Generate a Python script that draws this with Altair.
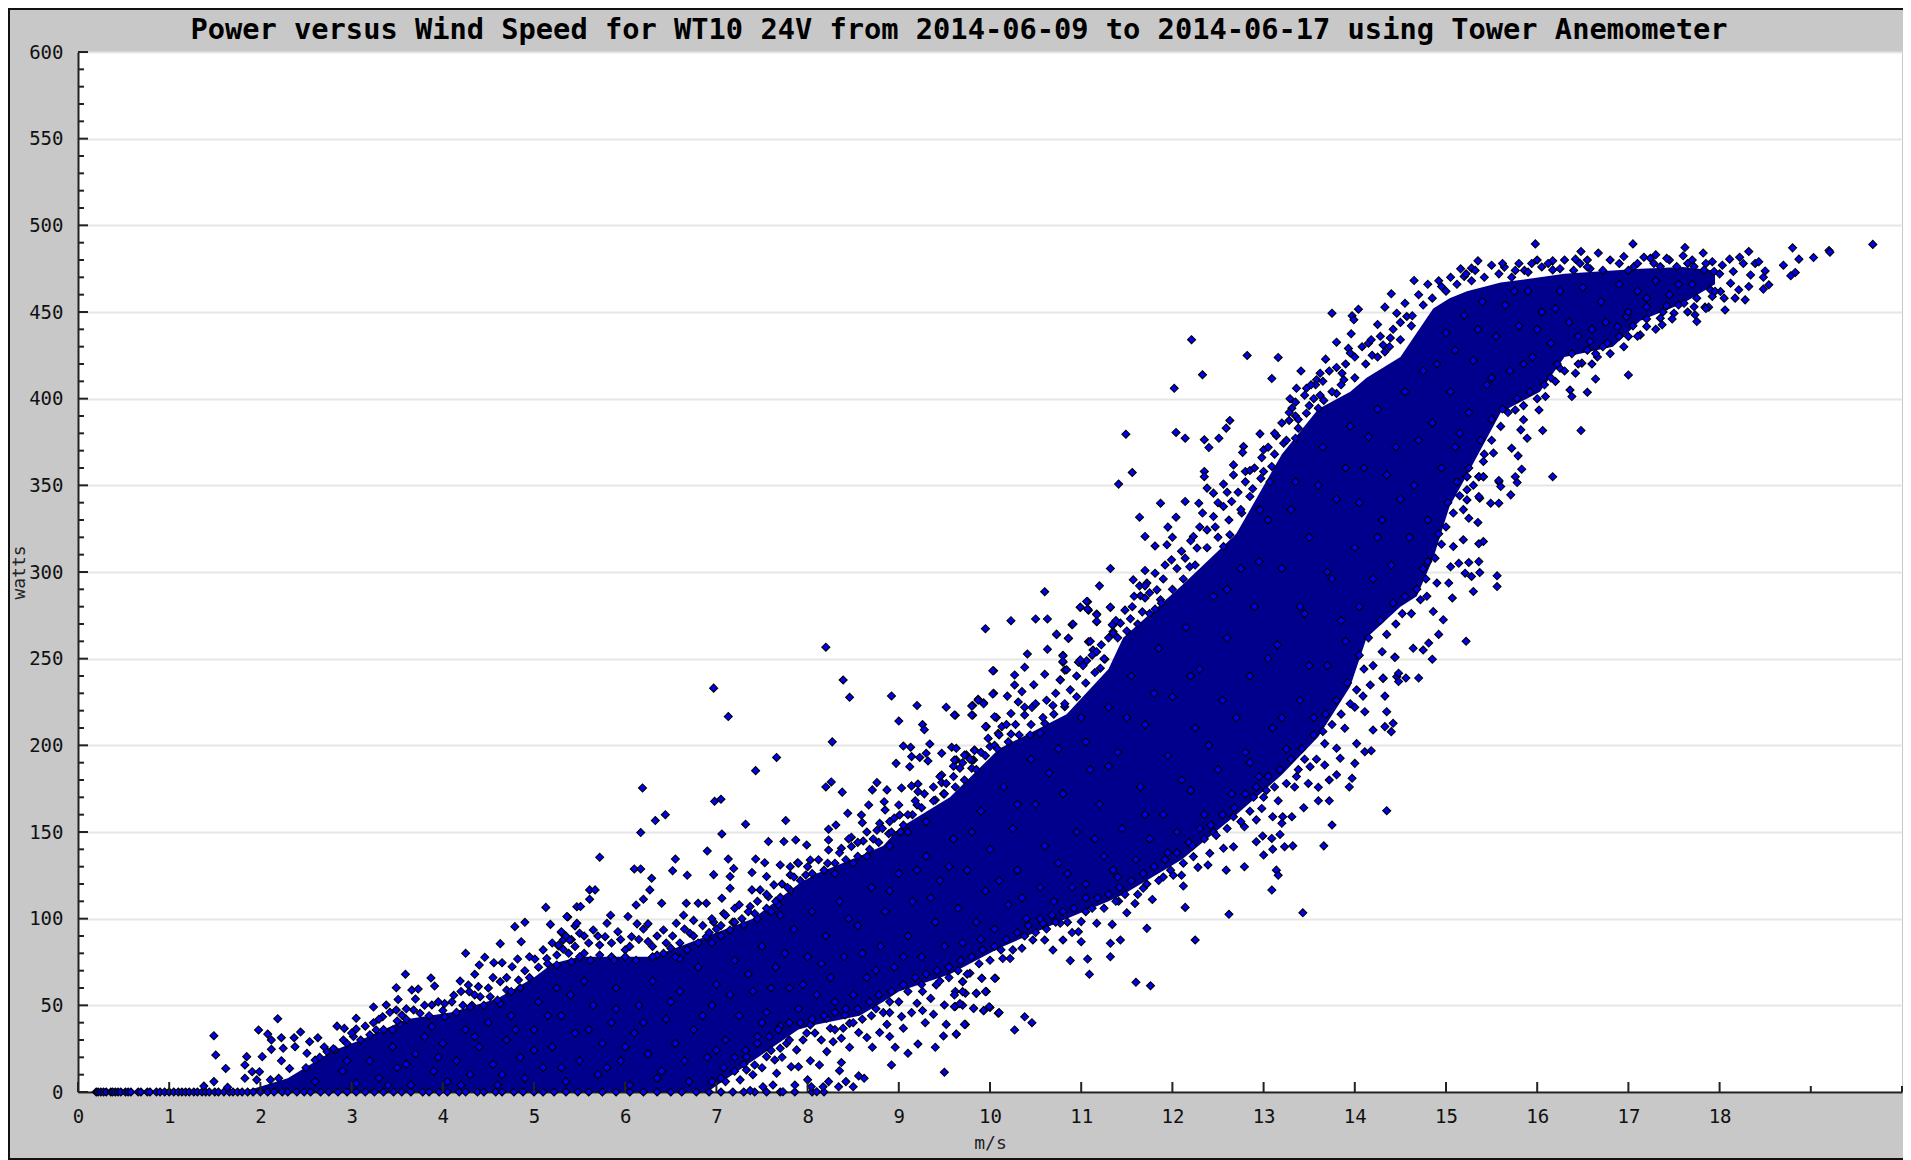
import altair as alt
import pandas as pd

TITLE = "Power versus Wind Speed for WT10 24V from 2014-06-09 to 2014-06-17 using Tower Anemometer"
X_LABELLED = list(range(0, 19))
X_TICKS = list(range(0, 21))
Y_MAJOR = list(range(0, 601, 50))
Y_MINOR = [v for v in range(0, 601, 10) if v % 50]

# Individual markers at zero watts, read along the axis.
zero_x = [0.20,0.22,0.25,0.28,0.31,0.36,0.38,0.41,0.44,0.47,0.52,0.55,0.58,0.66,0.69,0.76,0.79,0.86,0.90,0.95,
          1.00,1.05,1.10,1.14,1.18,1.22,1.27,1.31,1.36,1.40,1.44,1.50,1.54,1.60,1.66,1.70,1.75,1.80,1.86,1.92,
          2.00,2.08,2.15,2.24,2.30,2.40,2.48,2.55,2.66,2.75,2.85,2.95,3.05,3.15,3.25,3.35,3.46,3.55,3.65,3.78,
          3.85,3.96,4.05,4.18,4.25,4.38,4.45,4.58,4.65,4.78,4.88,5.00,5.10,5.22,5.35,5.48,5.60,5.75,5.90,6.05,
          6.20,6.35,6.50,6.62,6.78,6.92,7.05,7.18,7.30,7.42,7.55,7.70,7.86,8.05,8.18]

# The saturated core of the cloud, where single markers cannot be told apart:
# an envelope traced from its visible edges, not individual measurements.
core_x = [1.8,2.3,2.8,3.1,3.6,4.1,4.6,5.0,5.2,5.5,6.3,6.9,7.4,7.9,8.1,8.57,8.83,9.0,9.56,10.1,10.84,11.3,11.46,12.1,12.7,13.2,13.6,13.95,14.13,14.5,14.68,14.86,15.04,15.23,15.6,16.03,16.3,16.83,17.13,17.6,17.95]
core_top = [0,8,24,30,42,46,54,66,74,78,78,90,100,120,126,136,142,152,170,198,218,244,262,292,322,368,394,404,412,424,438,452,458,462,467,470,472,474,475,476,474]
core_bottom = [0,0,0,0,0,0,0,0,0,0,0,0,18,36,39,44,52,58,68,83,100,110,114,134,160,183,205,234,262,280,286,308,338,356,392,404,424,430,445,455,466]

# Visible markers (wind speed m/s, power W).
low_wind = [(5.13,106.5),(5.37,101),(4.9,97.9),(4.79,95.4),(5.18,96.7),(4.63,85.6),(4.86,86.7),(5.3,92),(5.45,95.8),(5.47,106.9),(5.41,88),(5.32,87.7),(5.27,84.2),(5.32,82.3),
(4.25,80),(4.46,77.7),(4.4,73.3),(4.56,74.6),(4.65,74.6),(4.76,72.3),(4.82,76.7),(5.01,76.7),(5.14,77),(5.25,73.3),(5.41,75.2),
(3.59,67.9),(3.87,65.8),(4.35,67.9),(4.19,64),(3.91,61.1),(3.49,60.2),(3.66,58.8),(3.73,59.4),(4.28,61.7),(4.39,60.8),(4.63,63.6),(4.7,58.8),(4.83,64.6),(4.29,57.9),(4.41,55),
(3.51,53.4),(3.7,53.6),(4.12,55.8),(3.24,49),(3.38,50.2),(4.02,51),(3.88,50.2),(3.68,47.3),(3.49,47.3),(4.22,50),(4.52,55),(4.63,51),(4.32,50),
(3.05,42.5),(2.84,38),(2.92,36.7),(3.05,36.3),(3.24,40),(3.34,43.4),(3.55,44.4),(3.75,45.4),(3.27,35.8),(3.45,35.8),(3.53,39.2),(3.88,37.7),(4.02,43.4),
(2.19,42.3),(1.98,35.8),(2.44,34.6),(2.08,33.4),(2.12,30),(2.23,31.3),(2.37,31.3),(2.63,31.3),(2.54,29),(2.12,24.6),(2.25,25.2),(2.38,26.1),(1.49,32.5),(1.51,21.3),(1.62,13.6),(1.49,6),(1.64,2.7),(1.38,3.4),(1.85,20.4),(2.02,20.4),(1.83,15.6),(1.91,11.7),(1.99,11.7),(1.83,7.9),(1.96,7),(2.11,7),(2.2,7.9),(2.23,18),(2.32,13.6),(2.51,22.3),(2.6,18.4),(2.73,23.3),(2.91,30),(3.02,32),(2.82,24.2)]

mid_upper = [(8.2,256.6),(8.39,237.7),(8.46,227.7),(6.97,233),(7.13,216.6),(10.04,243),(8.92,228.5),(9.2,223),(9.0,214),(9.26,212),(9.28,209),(9.52,222),(9.62,217.3),(9.81,223),(9.87,226.6),(9.93,224.6),(9.81,217.3),(10.04,230),(10.07,216),(9.96,210.8),(8.27,202),(7.66,193),(7.43,185.4),(9.05,199.6),(9.13,198.9),(9.34,200.8),(9.3,195.4),(9.14,193.5),(9.23,193),(9.32,191),(8.97,189.6),(9.12,187.7),(9.47,195.4),(9.58,198.9),(9.63,198.3),(9.63,191.6),(9.6,188),(9.67,186.8),(9.74,194.5),(9.83,197.3),(9.82,191.6),(9.8,186.8),(10.0,199.3),
(6.19,175.4),(6.44,160),(6.33,156.6),(6.17,149.7),(6.98,167.7),(7.05,168.9),(7.32,154.5),(7.06,148.9),(7.76,156.6),(7.57,144.5),(7.74,144.5),(7.87,145.4),(6.9,139),(5.72,135.4),(6.55,134.4),(7.13,134.4),(7.43,134.4),(6.1,128.7),(6.17,128.7),(6.52,127.7),(6.68,125),(6.29,123.3),(7.19,128.9),(6.97,125.4),(7.15,124.3),(7.39,126.6),(7.53,132.3),(7.7,131),(7.89,132.3),(7.81,130),(7.99,142.5),(8.03,133.9),(7.81,125.2),(7.55,124.3),(7.63,119.5),(7.98,125.2),
(8.2,176),(8.26,178.9),(8.38,173),(8.76,178.5),(8.71,174.3),(8.87,174.3),(9.03,175.4),(9.14,176.6),(9.21,177.7),(9.21,173.3),(9.47,182.9),(9.47,178.5),(9.49,172),(8.67,165.6),(8.44,160.8),(8.59,159.8),(8.6,155.4),(8.84,167.5),(8.85,162.7),(9.0,165.6),(9.2,165.6),(9.4,168.5),(8.31,154),(8.23,151.6),(8.9,156),(8.79,155),(9.01,159.8),(8.23,145.4),(8.23,139.6),(8.37,140.6),(8.48,147),(8.61,144.8),(8.48,141.6),(8.76,151),(8.89,149),
(5.61,116.6),(5.67,116.6),(5.61,111.2),(6.27,116.6),(6.2,111.2),(6.12,107.9),(6.4,108.9),(5.51,107),(5.36,101.2),(5.84,102),(6.03,101.2),(5.47,97.3),(6.67,108.9),(6.8,108.9),(6.89,108.9),(7.06,111.8),(7.15,117.5),(7.39,116.6),(7.48,116.6),(7.57,112.7),(7.7,112.3),(7.81,116.6),(7.37,107),(7.2,106),(7.08,103),(5.8,97.3),(6.13,97),(6.25,97),(6.64,102),(6.75,99),(6.97,98),(5.3,92.5),(5.5,91.6),(5.65,93.5),(5.78,89.6),(5.92,92.5),(6.07,89.6),(6.42,93.5),(6.56,97.3),(5.27,84.8),(5.39,87.7),(5.72,84.8),(6.25,86.8),(6.71,91.6),(6.89,89.6),(7.15,93.5),(7.3,96.4),
(5.55,80),(5.85,78),(6.0,82),(6.35,79),(6.5,83),(6.6,77),(6.95,86),(7.05,90),(7.45,100),(7.6,104),(7.7,102),(8.3,126),(8.5,132),(8.65,136),(8.9,142),(9.1,150),(9.3,156)]

mid_lower = [(9.5,11.4),(8.92,15.6),(9.4,25.8),(9.21,27.7),(9.1,22.3),(9.49,32.3),(9.63,33.3),(9.73,39),(9.52,39),(9.29,40),(9.05,36.8),(8.9,32),(8.96,25.8),(8.71,25.8),(8.65,31.4),(8.56,34.3),(8.79,34.3),(8.87,39),(9.14,45.8),(9.26,47),(9.38,44.8),(9.03,43.5),(8.83,45.8),(8.9,45.8),(9.5,50.2),(9.62,49.3),(9.7,50),(9.82,48.3),(9.93,47),(10.0,48.7),(10.09,45.4),(9.85,57),(9.96,58),(9.62,58),(9.73,57),(9.26,58),(9.2,51.2),(9.91,65.6),(10.06,65.6),(9.7,63.7),(9.41,61.8),
(8.46,25.8),(8.37,17),(8.35,12.3),(8.28,29),(8.37,31),(8.21,23.3),(8.13,15.6),(8.03,18),(7.9,14.6),(7.82,14.6),(7.66,10.8),(7.42,15.6),(7.33,12.7),(7.26,7),(8.56,9.3),(8.62,7.9),(8.5,3),(8.42,6),(8.34,3),(8.23,6),(8.17,3),(8.0,7),(8.04,3),(7.86,4),(7.62,4),(7.51,3),(7.37,0.8),(8.1,0.2),(7.73,0.2),
(8.03,38.7),(8.25,36.8),(8.39,36.8),(8.46,39.6),(8.41,44.5),(8.21,42.5),(7.99,34),(7.88,24.3),(7.77,28),(7.64,18.5),(7.55,20.4),(7.7,25.2),(7.33,20.4),
(9.63,33.4),(9.72,39),(10.27,35.8),(10.38,43.4),(10.46,40),(10.1,45.8),(10.05,65.6),(9.91,65.6),(9.78,68.5),(9.7,63.6),(9.95,57.9),(9.85,56.9),(9.7,57.9),(9.61,56),(9.67,51),(9.99,49.2),(9.93,46.9),(9.82,48.2),(9.61,49.2),(10.22,77),(10.14,77),(10.69,81.9),(10.8,87.7),(10.6,87.7),(10.47,87.7),(10.35,82.9),(10.77,97.3),(10.58,97.3),(11.0,98.3)]

upper_band = [(9.95,267.3),(10.23,271.9),(10.5,272.9),(10.63,272.9),(10.6,288.6),(10.9,269.6),(10.73,264),(10.86,261.7),(11.07,282.9),(10.99,279.6),(11.08,278),(11.32,279.6),(11.17,275.8),(11.17,271.3),(11.35,269.4),(11.35,265.6),(10.63,255.4),(10.41,252.7),(10.8,252),(11.13,255),(11.08,259.8),(10.03,243),(10.27,240.6),(10.38,245),(10.6,241),(10.82,243.4),(10.97,248),(11.06,248.8),(10.8,248),(10.27,234.8),(10.48,235),(10.35,231),(10.03,229.6),(10.19,228.4),(10.31,225),(10.77,237.7),(9.87,226),(9.93,224),(9.8,222.7),(9.8,217.5),(9.61,217.5),(10.05,216.5),(10.23,218.4),(10.46,221.9),(10.38,217.5),(10.69,223),(10.82,222.3),(9.95,210.8),(10.13,210.8),(10.23,206.5),(10.09,206.9),(10.44,206),(10.6,212.7),(10.55,207),(10.05,200),(9.83,197),(9.72,194.4),(9.61,191.5),(9.8,191.5),
(14.4,460.5),(14.04,451.6),(14.33,452.8),(13.75,449.3),(13.97,447.8),(13.99,445.5),(14.25,442.8),(14.46,449.3),(14.57,447.4),(14.63,447.8),(13.96,437.4),(13.8,432.6),(14.15,432),(13.93,429),(13.95,426.3),(14.31,431),(14.39,435),(14.33,427),(14.19,425),(13.68,422.8),(13.16,423.8),(12.82,424.9),(12.21,434),(12.33,413.8),(12.02,406),(13.09,411.6),(13.41,416),(13.62,414.7),(13.58,410.9),(13.47,406),(13.57,408),(13.36,406),(13.29,400),(13.31,394.5),(13.35,390),(13.47,391.6),(13.28,387.4),(13.55,400),(13.66,399),(13.6,394.5),(13.8,403),(13.86,414.7),(13.88,410.9),
(12.63,387.4),(12.59,383),(12.96,379.7),(12.51,377.2),(12.35,376.3),(12.4,371.8),(12.78,372.4),(12.77,369),(13.0,370.5),(13.14,378.6),(11.49,379.5),(12.04,380.5),(12.14,377.2),(13.22,374.3),(13.38,383),(13.35,377.2),(11.56,357.4),(11.41,350.7),(12.35,358),(12.35,355),(12.67,361.8),(12.67,356),(12.8,358),(12.85,358.6),(12.97,354),(12.56,350.7),(12.38,348.4),(12.45,345.5),(13.09,360.9),(13.07,352),(11.87,339.7),(12.14,340.7),(12.29,339.7),(11.64,331.6),(12.04,331.6),(11.95,325.9),(11.7,320.5),(11.81,315),(11.94,315.7),(12.0,320),(12.56,337.8),(12.65,340.7),(12.85,343.6),(12.96,335.9),(12.76,334),
(11.32,302),(11.2,292),(10.99,279.7),(11.06,283),(11.07,278.6),(11.32,279.7),(11.17,275.3),(11.17,271.5),(10.91,270),(10.73,264),(10.86,261.8),(11.7,300.9),(11.81,299.3),(11.57,295.5),(11.72,293.6),(11.64,292),(11.83,289.7),(11.65,286.3),(11.7,285),(11.87,284),(11.56,280),(11.67,277),(11.81,278.6),(11.54,273),(11.34,269.5),(11.43,270.5),(11.35,264.7),(11.1,260),(11.17,254),(10.99,249.3),(10.8,251.6),(10.8,248.4),(11.26,249.7),(10.84,243.6),(11.21,244.5),(10.77,237.8),(11.99,307),(12.14,308),(12.23,320.5),(12.38,324.3),(12.47,326),(12.27,313.8),(12.63,321.5),(12.19,303),(12.56,314.7)]

right_lower = [(14.35,162.3),(13.75,154),(13.66,142),(13.43,103.4),(12.62,102.5),(12.14,106.5),(13.09,116.5),(13.14,128),(13.16,125),(12.79,130),(12.25,87.7),(11.72,94.4),(11.76,61.3),(11.6,63.3),(11.09,67.9),(11.07,76.7),(10.88,75.8),(11.32,78),(11.32,85.8),(11.43,87.7),(11.0,86.7),(11.34,96.7),(10.97,92.5),(11.17,97.3),(11.5,103.4),(11.59,108.8),(11.41,110),(11.78,111.1),(12.12,118.8),(11.68,117.5),(11.9,124),(12.01,125),(12.1,125),(12.59,128),(12.28,129.6),(12.39,131),(13.0,136.7),(12.67,141.5),(12.56,140.6),(12.23,135.8),(12.41,137.7),(12.92,144.4),(13.1,140),(13.23,141.5),(13.32,142),(13.09,146.3),(13.18,148.6),(12.99,147.7),(12.67,158.8),(12.79,153),(12.92,157),(13.1,158.8),(13.21,158.8),(13.31,158.8),(13.2,155),(13.44,164),(13.6,168),(13.72,168),(13.16,168),(12.98,163.6),(12.89,170),(13.03,174),(13.94,176),(13.97,181),(13.8,183),(13.72,180),(13.6,175.8),(13.49,178),(13.34,176),(13.36,182),(13.67,188.6),(14.0,189.6),(13.84,192.5),(13.51,187.7),(14.18,196.9),(14.11,196.3),(14.02,201),(13.8,198.3),(13.67,201),(14.4,207.9),(14.33,210.8),(14.2,208.8),(14.42,212.7),(13.89,209.8),(14.35,219.4),(14.11,219.4),(14.0,222),(14.33,228.4),(14.09,228.4),(14.31,238.6),(14.46,239.6),(14.17,234.8),(14.44,251),
(15.22,260),(14.85,249.7),(14.92,264),(14.97,272.4),(14.7,238.8),(14.56,238.8),(14.48,241.6),(14.48,236.8),(14.31,238.8),(14.44,250.7),(14.75,255),(14.81,259),(14.64,256),(15.07,285),(14.86,277.2),(15.3,288.8),(15.56,291.6),(15.03,293.6),(14.9,293.6),(14.79,286),(15.05,303),(15.14,305),(15.25,305.5),(15.36,306),(15.37,299.7),(15.28,297.4),(15.21,299.3),(15.56,297.8),(15.36,316.3),(15.41,317.6),(15.08,314.7),(15.19,318.6),(15.35,328.6),(15.25,331),(15.19,336),(15.37,342.6),(15.49,339.7),(15.58,339.7),(15.23,341.6),(15.36,355),(15.41,355),(15.58,352),(15.23,355),(15.23,347.4),(15.41,363.8),(15.52,368.6)]

top_end = [(19.68,489),(19.2,485.5),(19.21,484.5),(19.03,481.4),(18.87,480.5),(18.8,487),(18.7,477),(18.83,472.8),(18.78,470.9),(18.32,484.9),(18.22,481.6),(18.26,478),(18.11,480.5),(18.39,478),(18.43,479),(18.03,477),(17.92,479),(17.82,484),(17.62,487.2),(17.6,482.4),(17.05,489.3),(16.48,484.9),(16.67,484),(15.98,489.3),(16.17,479.5),(16.17,474.3),(15.94,478),(15.64,475.9),(15.76,474),(15.86,474),(15.35,479.5),(15.28,475.3),(15.16,474.9),(15.2,470.5),(14.65,468.2),(14.95,464.7),(16.42,480.5),(16.47,478),(16.58,474.9),(17.17,481.6),(17.24,481),(17.0,474),(17.06,476.2),(17.35,476.2),(17.53,476.2),(17.72,476.2),(17.83,474.3),(17.94,473.4),(18.15,473.4),(18.34,471.4),(18.5,473.7),(18.48,470),(18.54,465.7),(18.48,463.2),(18.32,464.7),(18.21,462.8),(18.12,466.6),(18.01,461.8),(17.9,462.8),(18.17,458),(18.28,457),(18.06,451.2),(17.88,452.8),(17.84,452.8),(17.92,459),(17.72,453),(17.73,448.4),(17.75,444.5),(17.61,455),(17.5,449.3),(17.42,453.5),(17.35,446.4),(17.37,442.6),(17.2,441.6),(17.13,436.8),(17.0,435.9),(17.0,413.7),(16.64,411.4),(16.55,403.7),(16.36,405),(16.38,401.2),(16.48,381.6),(16.06,381.6),(15.89,377.2),(15.72,371.4),(15.79,367),(15.83,359.3),(16.17,355),(15.76,355),(15.71,344.5),(15.36,343.5),(15.78,351.6),(15.58,352.8),(15.6,349.3),(15.36,355),(15.41,355),(15.23,355),(16.66,424),(16.64,426),(16.42,414.7),(16.49,420.5),(16.25,417.6),(16.2,409.9),(16.09,401.2),(16.02,393.5),(15.85,387.8),(15.76,393.5),(15.82,382),(16.77,432),(16.58,433),(16.88,441.6),(16.98,447.4),(17.2,453)]

# Bright diamonds seen inside the core, approximate positions.
inside_low = [(2.6,6),(2.9,12),(3.05,5),(3.2,18),(3.3,8),(3.45,26),(3.5,14),(3.65,4),(3.7,22),(3.8,32),(3.9,12),(4.0,28),(4.05,6),(4.15,18),(4.25,36),(4.3,10),(4.4,26),(4.5,40),(4.55,16),(4.6,4),(4.7,30),(4.75,44),(4.85,20),(4.9,8),(5.0,36),(5.05,52),(5.1,14),(5.2,26),(5.25,60),(5.3,44),(5.35,6),(5.45,34),(5.5,18),(5.55,64),(5.65,50),(5.7,10),(5.75,28),(5.85,40),(5.9,60),(5.95,18),(6.05,4),(6.1,34),(6.15,50),(6.25,22),(6.3,64),(6.4,12),(6.45,42),(6.55,28),(6.6,58),(6.7,6),(6.75,36),(6.8,72),(6.9,20),(6.95,50),(7.0,62),(7.05,8),(7.1,30),(7.2,76),(7.25,44),(7.3,16),(7.4,58),(7.45,32),(7.5,84),(7.55,46),(7.65,72),(7.7,38),(7.8,60),(7.85,94),(7.9,48),(8.0,78),(8.05,104),(8.1,56),(8.2,90),(8.25,66),(8.35,110),(8.4,78),(8.5,56),(8.55,96),(8.65,66),(8.7,118),(8.8,84),(8.85,104),(8.95,72),(9.0,126),(9.1,90),(9.15,110),(9.25,78),(9.3,136),(9.4,98),(9.45,122),(9.5,84)]
inside_mid = [(9.6,146),(9.65,106),(9.7,86),(9.75,128),(9.85,98),(9.9,162),(9.95,116),(10.0,140),(10.05,94),(10.15,176),(10.2,108),(10.25,152),(10.3,128),(10.4,100),(10.45,192),(10.5,166),(10.55,118),(10.6,142),(10.7,110),(10.75,198),(10.8,172),(10.85,126),(10.95,150),(11.0,216),(11.05,120),(11.1,186),(11.2,166),(11.25,136),(11.3,222),(11.35,128),(11.4,196),(11.45,152),(11.55,240),(11.6,134),(11.65,176),(11.7,212),(11.75,146),(11.85,256),(11.9,160),(11.95,194),(12.0,228),(12.05,150),(12.15,268),(12.2,174),(12.25,210),(12.3,244),(12.35,160),(12.45,286),(12.5,186),(12.55,226),(12.6,262),(12.65,172),(12.75,302),(12.8,196),(12.85,240),(12.9,280),(12.95,182),(13.05,330),(13.1,210),(13.15,258),(13.2,302),(13.25,198),(13.35,352),(13.4,226),(13.45,276),(13.5,320),(13.55,216),(13.65,372),(13.7,246),(13.75,296),(13.8,342),(13.9,260),(13.95,384),(14.0,314),(14.05,280),(14.1,360),(14.2,296),(14.25,394),(14.3,330),(14.4,304),(14.45,372),(14.55,404),(14.6,320),(14.65,350),(14.75,416),(14.8,330),(14.85,386),(14.95,360),(15.0,438),(15.05,404),(15.1,372),(15.2,448),(15.25,392),(15.3,422),(15.4,456),(15.45,408),(15.55,436),(15.65,454),(15.7,416),(15.8,442),(15.9,462),(15.95,424),(16.05,450),(16.15,432),(16.25,462),(16.35,444),(16.5,464),(16.6,440),(16.7,456),(16.9,466),(17.0,450),(17.1,462),(17.3,468),(17.45,460),(17.7,466)]
inside_more = [(2.95,18),(3.4,4),(3.6,16),(3.95,20),(4.2,4),(4.35,32),(4.65,10),(4.8,36),(5.0,24),(5.15,44),(5.3,14),(5.4,56),(5.6,36),(5.8,14),(5.9,48),(6.0,26),(6.2,40),(6.35,8),(6.5,52),(6.65,18),(6.85,44),(7.0,24),(7.15,56),(7.35,68),(7.5,40),(7.6,60),(7.75,80),(7.95,62),(8.15,74),(8.3,52),(8.45,100),(8.6,80),(8.75,70),(8.9,116),(9.05,78),(9.2,128),(9.35,112),(9.55,130),(9.8,150),(9.9,88),(10.1,122),(10.3,166),(10.35,112),(10.65,184),(10.75,132),(10.9,118),(11.05,202),(11.15,146),(11.3,188),(11.4,124),(11.5,216),(11.7,160),(11.8,230),(11.95,138),(12.1,180),(12.2,240),(12.4,200),(12.45,150),(12.6,290),(12.7,216),(12.85,190),(12.95,306),(13.05,250),(13.2,216),(13.3,336),(13.4,280),(13.5,246),(13.6,350),(13.7,300),(13.85,272),(13.9,360),(14.05,340),(14.15,378),(14.25,320),(14.35,356),(14.5,342),(14.7,376),(14.75,302),(14.9,420),(15.1,428),(15.15,380),(15.35,440),(15.5,412),(15.75,462),(15.85,420),(16.0,440),(16.2,452),(16.45,436),(16.75,444),(17.2,458),(17.55,466)]

# Markers crowding the jagged rim of the core, estimated along its edges.
rim_top = [(2.5,14),(2.65,20),(2.8,25),(2.95,28),(3.1,30),(3.2,33),(3.35,36),(3.5,41),(3.6,42),(3.85,44),(4.0,47),(4.15,46),(4.3,49),(4.45,50),(4.6,53),(4.75,58),(4.85,60),(4.95,66),(5.05,72),(5.15,74),(5.25,79),(5.38,80),(5.5,78),(5.62,76),(5.72,79),(5.88,76),(6.0,78),(6.12,76),(6.3,78),(6.42,80),(6.55,78),(6.68,82),(6.8,86),(6.92,92),(7.05,96),(7.18,98),(7.28,100),(7.42,103),(7.55,106),(7.68,108),(7.78,118),(7.92,122),(8.05,126),(8.18,128),(8.3,132),(8.42,134),(8.55,136),(8.68,140),(8.78,144),(8.92,150),(9.05,154),(9.15,160),(9.25,164),(9.38,168),(9.5,172),(9.62,176),(9.72,180),(9.85,186),(9.95,194),(10.08,198),(10.2,202),(10.32,206),(10.45,212),(10.58,216),(10.7,218),(10.82,224),(10.95,228),(11.05,236),(11.15,242),(11.25,250),(11.4,262),(11.5,266),(11.62,270),(11.75,276),(11.88,282),(12.0,290),(12.12,296),(12.25,304),(12.38,314),(12.5,320),(12.62,330),(12.75,336),(12.88,348),(13.0,358),(13.12,368),(13.25,376),(13.38,388),(13.5,396),(13.62,402),(13.75,404),(13.85,408),(14.0,412),(14.12,420),(14.25,424),(14.38,430),(14.5,434),(14.62,442),(14.75,454),(14.85,458),(15.0,462),(15.12,466),(15.28,468),(15.42,470),(15.58,472),(15.72,470),(15.9,473),(16.05,476),(16.25,475),(16.4,474),(16.55,476),(16.72,474),(16.9,478),(17.1,478),(17.28,478),(17.45,480),(17.65,478),(17.85,478)]
rim_bottom = [(6.95,6),(7.08,14),(7.2,20),(7.32,24),(7.45,28),(7.58,32),(7.68,36),(7.8,40),(7.92,40),(8.05,42),(8.18,44),(8.3,46),(8.42,48),(8.55,48),(8.68,52),(8.78,56),(8.92,58),(9.05,62),(9.18,66),(9.3,68),(9.42,70),(9.55,72),(9.68,76),(9.8,78),(9.92,82),(10.05,84),(10.18,88),(10.3,92),(10.42,96),(10.55,100),(10.68,102),(10.8,104),(10.92,106),(11.05,112),(11.18,112),(11.3,114),(11.42,118),(11.55,122),(11.68,126),(11.8,130),(11.92,134),(12.05,138),(12.18,144),(12.3,152),(12.42,154),(12.55,160),(12.68,164),(12.8,172),(12.92,176),(13.05,182),(13.18,186),(13.3,192),(13.42,198),(13.55,206),(13.68,218),(13.8,226),(13.92,236),(14.05,252),(14.15,262),(14.28,272),(14.42,282),(14.55,286),(14.68,290),(14.8,306),(14.92,322),(15.02,340),(15.12,352),(15.25,360),(15.38,376),(15.5,388),(15.62,394),(15.78,400),(15.92,404),(16.08,408),(16.22,420),(16.38,426),(16.55,428),(16.72,430),(16.9,436),(17.05,442),(17.2,446),(17.38,450),(17.55,454),(17.75,458),(17.95,462)]

# Further markers in the crowded zone just outside the rim, estimated.
fringe_up_a = [(2.7,26),(3.0,34),(3.15,38),(3.3,42),(3.42,46),(3.6,48),(3.8,50),(3.95,52),(4.1,52),(4.2,58),(4.35,56),(4.5,60),(4.55,66),(4.7,66),(4.9,70),(4.95,78),(5.1,82),(5.2,86),(5.35,90),(5.45,84),(5.55,90),(5.6,86),(5.7,90),(5.85,86),(5.95,88),(6.05,84),(6.15,88),(6.2,94),(6.3,84),(6.35,90),(6.45,86),(6.52,90),(6.6,86),(6.65,94),(6.75,90),(6.85,96),(6.95,100),(7.0,94),(7.1,102),(7.2,98),(7.25,108),(7.35,104),(7.45,110),(7.55,114),(7.65,110),(7.72,120),(7.85,124),(7.9,132),(8.0,130),(8.12,134),(8.22,132),(8.35,138),(8.45,146),(8.55,144),(8.65,150),(8.72,146),(8.82,152),(8.95,158),(9.02,150),(9.1,160),(9.18,168),(9.28,172),(9.38,176),(9.45,182),(9.52,178),(9.6,182),(9.7,190),(9.78,192),(9.9,196),(9.98,204),(10.1,206),(10.18,212),(10.28,212),(10.38,222),(10.5,224),(10.62,226),(10.72,230),(10.88,232),(10.95,240),(11.02,246),(11.12,252),(11.22,258),(11.3,262),(11.38,272),(11.48,278),(11.58,286),(11.7,292)]
fringe_up_b = [(11.75,288),(11.9,296),(11.92,304),(12.05,302),(12.1,312),(12.2,318),(12.3,326),(12.33,334),(12.45,332),(12.5,340),(12.6,346),(12.72,346),(12.8,352),(12.9,360),(12.98,366),(13.05,372),(13.12,380),(13.2,386),(13.28,392),(13.35,398),(13.45,402),(13.52,408),(13.65,410),(13.72,416),(13.8,418),(13.9,420),(14.0,424),(14.08,430),(14.18,434),(14.28,436),(14.42,440),(14.5,444),(14.55,455),(14.7,460),(14.8,466),(14.92,468),(15.05,470),(15.22,472),(15.32,474),(15.5,477),(15.62,478),(15.8,478),(16.0,480),(16.12,478),(16.3,480),(16.55,480),(16.8,480),(16.95,482),(17.3,483),(17.42,481),(17.7,480),(18.0,472)]
fringe_lo_a = [(7.1,6),(7.2,12),(7.4,10),(7.5,14),(7.6,24),(7.72,20),(7.8,30),(7.95,30),(8.08,34),(8.15,30),(8.3,36),(8.5,40),(8.6,42),(8.7,44),(8.75,48),(8.9,52),(9.0,52),(9.1,58),(9.25,62),(9.35,54),(9.45,64),(9.55,66),(9.65,70),(9.75,68),(9.88,74),(10.0,76),(10.12,82),(10.25,82),(10.38,90),(10.5,92),(10.62,94),(10.72,98),(10.85,98),(10.9,92),(11.05,104),(11.12,106),(11.25,106),(11.38,110),(11.48,114),(11.62,114),(11.72,120),(11.85,122),(11.98,128),(12.12,132),(12.22,142),(12.35,146),(12.48,148),(12.6,152),(12.75,156),(12.85,162),(13.0,170),(13.12,176),(13.25,178),(13.38,186),(13.45,192),(13.58,192),(13.65,208),(13.75,212),(13.85,218),(13.95,224),(14.02,232),(14.1,244),(14.2,246),(14.3,254),(14.35,264),(14.45,270),(14.52,276),(14.62,276),(14.72,284),(14.78,296),(14.88,308),(14.95,316),(15.0,326),(15.08,334),(15.15,344),(15.3,350),(15.42,368),(15.5,376),(15.6,384),(15.68,392),(15.85,396),(16.0,400),(16.15,412),(16.3,416),(16.45,420),(16.6,420),(16.8,426),(16.95,430),(17.1,436),(17.3,440),(17.48,446),(17.65,450),(17.85,452),(18.05,458)]

points = (low_wind + mid_upper + mid_lower + upper_band + right_lower + top_end + inside_low + inside_mid
          + inside_more + rim_top + rim_bottom + fringe_up_a + fringe_up_b + fringe_lo_a)
pts = pd.DataFrame(points, columns=["speed", "power"])
zeros = pd.DataFrame({"speed": zero_x, "power": [0] * len(zero_x)})
core = pd.DataFrame({"speed": core_x, "top": core_top, "bottom": core_bottom})

W, H = 1824, 1040
X_SCALE = alt.Scale(domain=[0, 20], nice=False, zero=False)
Y_SCALE = alt.Scale(domain=[0, 600], nice=False)
MONO = "DejaVu Sans Mono"

x_axis = alt.Axis(values=X_LABELLED, title="m/s", grid=False, ticks=False, labelFlush=False,
                  labelFont=MONO, labelFontSize=19, labelColor="#111111", labelPadding=15,
                  titleFont=MONO, titleFontSize=18, titleFontWeight="normal", titleColor="#222222", titlePadding=8,
                  domainColor="#222222", domainWidth=2, format="d", labelOverlap=False)
y_axis = alt.Axis(values=Y_MAJOR, title="watts", grid=True, gridColor="#e6e6e6", gridWidth=2, ticks=False,
                  labelFont=MONO, labelFontSize=19, labelColor="#111111", labelPadding=15,
                  titleFont=MONO, titleFontSize=18, titleFontWeight="normal", titleColor="#222222", titleX=-50,
                  domainColor="#222222", domainWidth=2, format="d", labelOverlap=False)

X_ENC = alt.X("speed:Q", scale=X_SCALE, axis=x_axis)
Y_ENC = alt.Y("power:Q", scale=Y_SCALE, axis=y_axis)

area = alt.Chart(core).mark_area(color="#00008c", interpolate="linear").encode(
    x=X_ENC, y=alt.Y("top:Q", scale=Y_SCALE, axis=y_axis), y2="bottom:Q")


def marks(df):
    return alt.Chart(df).mark_point(shape="diamond", filled=True, fill="#0000f0", stroke="#000000",
                                    strokeWidth=1.1, size=64, opacity=1, clip=False).encode(x=X_ENC, y=Y_ENC)


def x_ticks(vals, length):
    return alt.Chart(pd.DataFrame({"speed": vals})).mark_rule(color="#222222", strokeWidth=2).encode(
        x=X_ENC, y=alt.value(H), y2=alt.value(H - length))


def y_ticks(vals, length):
    return alt.Chart(pd.DataFrame({"power": vals})).mark_rule(color="#222222", strokeWidth=2).encode(
        y=Y_ENC, x=alt.value(0), x2=alt.value(length))


def frame(**enc):
    return alt.Chart(pd.DataFrame({"a": [0]})).mark_rule(color="#111111", strokeWidth=2).encode(**enc)


chart = alt.layer(
    area,
    marks(zeros),
    marks(pts),
    x_ticks(X_LABELLED, 10),
    x_ticks([19, 20], 6),
    y_ticks(Y_MAJOR, 10),
    y_ticks(Y_MINOR, 6),
    frame(x=alt.value(-70), x2=alt.value(1825), y=alt.value(-43)),
    frame(x=alt.value(-70), x2=alt.value(1825), y=alt.value(1107)),
    frame(x=alt.value(-69), y=alt.value(-44), y2=alt.value(1108)),
).properties(
    width=W,
    height=H,
    background="#c8c8c8",
    padding={"left": 70, "right": 1, "top": 44, "bottom": 68},
    autosize=alt.AutoSizeParams(type="none"),
    title=alt.TitleParams(TITLE, font=MONO, fontSize=28.7, fontWeight="bold", color="#000000",
                          anchor="middle", dx=-31, offset=-38),
).configure_view(fill="#ffffff", stroke=None)

chart.save("out.html", embed_options={"renderer": "svg", "actions": False})
